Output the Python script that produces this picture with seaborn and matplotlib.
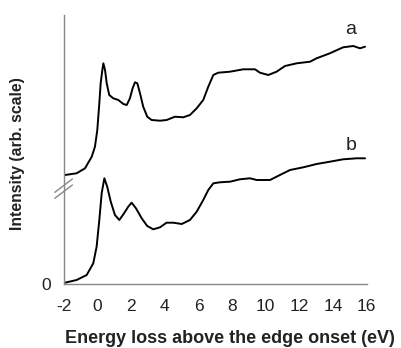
import numpy as np
import pandas as pd
import matplotlib
matplotlib.use("Agg")
import matplotlib.pyplot as plt
import seaborn as sns

energy_a = [-1.94, -1.25, -0.75, -0.35, -0.16, -0.02, 0.10, 0.18, 0.28, 0.34, 0.44, 0.54, 0.69, 0.93,
            1.23, 1.53, 1.73, 1.92, 2.08, 2.22, 2.36, 2.52, 2.71, 2.95, 3.21, 3.71, 4.10, 4.60, 5.09,
            5.49, 5.89, 6.28, 6.58, 6.88, 7.17, 7.87, 8.66, 9.36, 9.65, 10.15, 10.64, 11.14, 11.84,
            12.63, 13.02, 13.81, 14.60, 15.20, 15.60, 15.90]
intensity_a = [109, 110.7, 115.7, 127.3, 137.3, 154, 180.7, 200.7, 214, 220.7, 214, 200.7, 189, 185.7,
               184, 180, 179, 185.7, 195.7, 201.7, 200.7, 190.7, 177.3, 167.3, 164, 163.3, 164, 167.3, 166.7,
               169, 175.7, 184, 197.3, 209, 211.3, 212.3, 214.7, 214.7, 211.3, 209, 212.3, 218, 220.7,
               222.3, 225.7, 230.7, 236.7, 238, 235.7, 237.3]
energy_b = [-1.94, -1.25, -0.65, -0.26, -0.06, 0.10, 0.24, 0.40, 0.57, 0.78, 1.03, 1.29, 1.57, 1.82,
            2.02, 2.28, 2.62, 2.95, 3.31, 3.71, 4.10, 4.50, 5.00, 5.49, 5.89, 6.28, 6.58, 6.88, 7.27,
            7.87, 8.46, 9.06, 9.46, 10.25, 10.84, 11.44, 12.23, 13.02, 13.81, 14.60, 15.40, 15.90]
intensity_b = [1.3, 4, 9, 20.7, 37.3, 64, 90.7, 105.7, 97.3, 82.3, 69, 64, 70.7, 77.3,
               81.3, 75.7, 65.7, 58, 54.7, 56.7, 61.3, 61.3, 60, 64, 72.3, 84, 94, 100.7, 101.7,
               102.3, 104.7, 105.7, 104, 104, 109, 114, 116.7, 120, 122.3, 124.7, 125.7, 125.7]
x_ticks = [-2, 0, 2, 4, 6, 8, 10, 12, 14, 16]
series_labels = ["a", "b"]

df = pd.concat([
    pd.DataFrame({"E": energy_a, "I": intensity_a, "s": "a"}),
    pd.DataFrame({"E": energy_b, "I": intensity_b, "s": "b"}),
])

sns.set_style("white")
plt.rcParams['font.family'] = ['Liberation Sans', 'DejaVu Sans']

fig = plt.figure(figsize=(4.02, 3.48), dpi=100)
ax = fig.add_axes([64/402, 1-284/348, (366.7-64)/402, (284-15)/348])
sns.lineplot(data=df, x="E", y="I", units="s", estimator=None, color="black", lw=1.4, ax=ax,
             legend=False, sort=False)
ax.set_xlim(-2, 16)
ax.set_ylim(0, 269)
ax.set_xticks(x_ticks)
ax.set_xticklabels([str(t) for t in x_ticks], fontsize=12.5, color="#222222")
ax.set_yticks([0])
ax.set_yticklabels(["0"], fontsize=12.5, color="#222222")
for s in ["top", "right"]:
    ax.spines[s].set_visible(False)
for s in ["left", "bottom"]:
    ax.spines[s].set_color("#888888")
    ax.spines[s].set_linewidth(1.0)
ax.tick_params(axis="x", direction="out", length=4, color="#888888", pad=7)
ax.tick_params(axis="y", direction="out", length=0, pad=9)
ax.set_xlabel("Energy loss above the edge onset (eV)", fontsize=13, fontweight="bold",
              color="#222222")
ax.xaxis.set_label_coords(0.548, -0.172)
ax.set_ylabel("Intensity (arb. scale)", fontsize=11.3, fontweight="bold", color="#222222")
ax.yaxis.set_label_coords(-0.128, 0.485)

# labels a, b
ax.text(15.05, 254, series_labels[0], fontsize=14, ha="center", va="center", color="#222222")
ax.text(15.05, 139, series_labels[1], fontsize=14, ha="center", va="center", color="#222222")

# axis break marks
for dy in [0, 6]:
    ax.plot([-2.55, -1.5], [(852 - 595) / 3 + dy, (852 - 555) / 3 + dy], color="#888888", lw=1.0,
            clip_on=False)

fig.savefig("out.png", dpi=100)
